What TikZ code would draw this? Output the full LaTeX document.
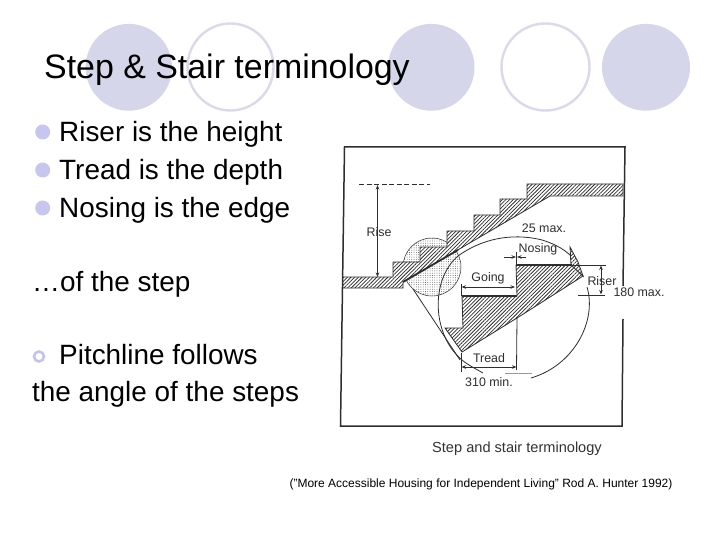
\documentclass[tikz,border=0pt]{standalone}
\usepackage{fontspec}
\setmainfont{Liberation Sans}
\usetikzlibrary{arrows.meta,patterns.meta}
\definecolor{dotfill}{HTML}{D6D6EA}
\definecolor{ringc}{HTML}{DADAE8}
\definecolor{bullc}{HTML}{C6C6EE}
\definecolor{scan}{HTML}{2E2E2E}
\tikzset{
  deco/.style={draw=none,fill=dotfill},
  ringdeco/.style={draw=ringc,line width=2.4pt,fill=none},
  bodytext/.style={anchor=base west,inner sep=0pt,font=\fontsize{27.9}{30}\selectfont,text=black},
  bull/.style={circle,fill=bullc,minimum size=15pt,inner sep=0pt},
  scanline/.style={draw=scan,line width=1.5pt},
  thinline/.style={draw=scan,line width=.8pt},
  hatched/.style={draw=scan,line width=.8pt,fill=white,postaction={pattern={Lines[angle=45,distance=2.6pt,line width=.75pt]},pattern color=scan}},
  stipple/.style={draw=scan,line width=.5pt,fill=white,postaction={pattern={Dots[distance=2.3pt,radius=.45pt]},pattern color=black!70}},
  figlabel/.style={inner sep=0pt,text=scan,font=\fontsize{12.4}{14}\selectfont},
  dimarrow/.style={thinline,-{Stealth[length=4.5pt,width=3.5pt]}},
  dimboth/.style={thinline,{Stealth[length=4.5pt,width=3.5pt]}-{Stealth[length=4.5pt,width=3.5pt]}}
}
\begin{document}
\begin{tikzpicture}[x=1pt,y=-1pt]
\useasboundingbox[fill=white] (0,0) rectangle (720,540);
% decorative circles
\fill[deco] (128.8,67.3) ellipse [x radius=43.2,y radius=43.4];
\draw[ringdeco] (230.5,67) ellipse [x radius=43,y radius=43.5];
\fill[deco] (431.3,67.3) ellipse [x radius=43.2,y radius=43.4];
\draw[ringdeco] (545.5,67) ellipse [x radius=44,y radius=43.5];
\fill[deco] (646,67.3) ellipse [x radius=44,y radius=43.4];
% title
\node[anchor=base west,inner sep=0pt,font=\fontsize{33.9}{36}\selectfont] (title) at (44,79) {Step \& Stair terminology};
% bullets
\node[bull] (b1) at (42.7,132) {};
\node[bull] (b2) at (42.7,170) {};
\node[bull] (b3) at (42.7,208) {};
\node[bodytext] (t1) at (59,142) {Riser is the height};
\node[bodytext] (t2) at (59,180) {Tread is the depth};
\node[bodytext] (t3) at (59,218) {Nosing is the edge};
\node[bodytext] (t4) at (32,291) {…of the step};
\node[circle,draw=ringc!90!blue,line width=2.6pt,minimum size=10pt,inner sep=0pt] (b4) at (39,356.5) {};
\node[bodytext] (t5) at (59,364) {Pitchline follows};
\node[bodytext] (t6) at (32,401) {the angle of the steps};
% frame
\draw[scanline] (623,286) -- (625,147) -- (344.5,147) -- (340.5,426) -- (622,426) -- (623,319);
% stipple circle
\draw[stipple] (432,267) circle [radius=29];
% stairs
\draw[hatched] (343,277) -- (393,277) -- (393,262) -- (420,262) -- (420,247) -- (447,247) -- (447,231) -- (474,231) -- (474,215) -- (500,215) -- (500,199) -- (527,199) -- (527,184) -- (623,184) -- (623,196) -- (550,196) -- (403,282) -- (403,288) -- (343,288) -- cycle;
\draw[line width=1.8pt,scan] (403,282) -- (458,250);
% enlargement lines and big circle arcs
\draw[thinline] (413,289) -- (460,360);
\draw[thinline] (542,240) .. controls (510,232) and (480,240) .. (458,256) .. controls (430,280) and (432,335) .. (462,360) .. controls (468,365) and (476,369) .. (483,373);
\draw[thinline] (587,287) .. controls (597,320) and (575,365) .. (531,378);
\draw[thinline] (542,240) .. controls (552,243) and (563,248) .. (571,256);
% detail stairs
\draw[hatched] (516,265) -- (572,265) -- (583,276) -- (517,318) -- (462,352) -- (445,328) -- (463,328) -- (462,296) -- (517,296) -- cycle;
\draw[hatched] (570,247) -- (571,265) -- (583,276) -- (578,262) -- cycle;
\draw[line width=1.5pt,scan] (516,265) -- (572,265);
\draw[line width=1.5pt,scan] (462,296) -- (517,296);
% dimension lines
\draw[dashed,thinline,dash pattern=on 5pt off 2.5pt] (359,184) -- (430,184);
\draw[dimboth] (377.5,185) -- (377.5,277);
\draw[thinline] (461,284) -- (461,296);
\draw[dimboth] (461.5,287) -- (515,287);
\draw[thinline] (516,252) -- (516,265);
\draw[dimarrow] (504,257) -- (516,257);
\draw[dimarrow] (526,257) -- (517,257);
\draw[thinline] (572,265) -- (606,265);
\draw[thinline] (578,295) -- (605,295);
\draw[dimboth] (601,265.5) -- (601,294.5);
\draw[thinline] (517,318) -- (516.5,370);
\draw[thinline] (461,353) -- (461,372);
\draw[dimboth] (461.5,367) -- (516.5,367);
\draw[draw=black!40,line width=.5pt] (505,373) -- (532,373);
% labels
\node[figlabel] (lrise) at (379,232) {Rise};
\node[figlabel] (lgoing) at (488,278) {Going};
\node[figlabel] (lnosing) at (538,249) {Nosing};
\node[figlabel] (l25) at (544,228) {25 max.};
\node[figlabel] (lriser) at (602,281) {Riser};
\node[figlabel] (l180) at (639,292) {180 max.};
\node[figlabel] (ltread) at (489,358) {Tread};
\node[figlabel] (l310) at (489,382) {310 min.};
% caption
\node[inner sep=0pt,text=black!80,font=\fontsize{14.6}{16}\selectfont] (cap) at (517,449) {Step and stair terminology};
\node[inner sep=0pt,font=\fontsize{12}{14}\selectfont] (src) at (481,484) {("More Accessible Housing for Independent Living" Rod A. Hunter 1992)};
\end{tikzpicture}
\end{document}
